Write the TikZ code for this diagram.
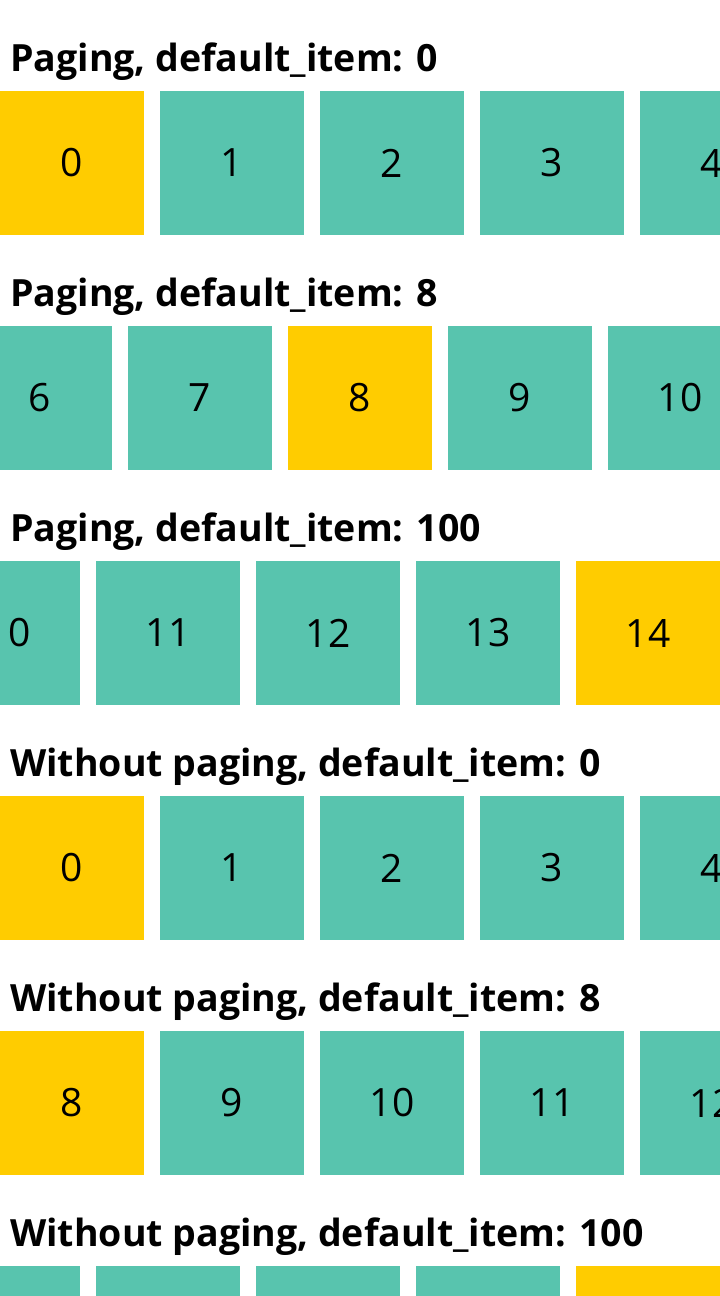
\documentclass[tikz,border=0pt]{standalone}
\usepackage{fontspec}
\setmainfont{Open Sans}
\usetikzlibrary{positioning}
\definecolor{cteal}{HTML}{58C4AE}
\definecolor{cyel}{HTML}{FFCC00}
\definecolor{cbk}{HTML}{000000}

\begin{document}
\begin{tikzpicture}[x=1pt, y=-1pt,
    cell/.style={rectangle, fill=cteal, minimum size=144pt, inner sep=0pt, font=\fontsize{39}{44}\selectfont\color{cbk}},
    pick/.style={cell, fill=cyel},
    rowtitle/.style={anchor=base west, inner sep=0pt, font=\fontsize{37.5}{44}\selectfont\bfseries\color{cbk}}]
    \useasboundingbox (0,0) rectangle (720,1296);
    \clip (0,0) rectangle (720,1296);
    % row / left edge / first item / picked slot / title
    \foreach \r/\lx/\n/\s/\t in {
        0/0/0/0/{Paging, default\_item: 0},
        1/-32/6/2/{Paging, default\_item: 8},
        2/-64/10/4/{Paging, default\_item: 100},
        3/0/0/0/{Without paging, default\_item: 0},
        4/0/8/0/{Without paging, default\_item: 8},
        5/-64/10/4/{Without paging, default\_item: 100}} {
        \node[rowtitle] (t\r) at (10, 71+235*\r) {\t};
        \foreach \k in {0,...,4} {
            \pgfmathtruncatemacro\num{\n+\k}
            \def\sty{cell}
            \ifnum\k=\s \def\sty{pick}\fi
            \node[\sty] (c\r\k) at (\lx+72+160*\k, 163+235*\r) {\ifnum\r<5 \num\fi};
        }
    }
\end{tikzpicture}
\end{document}
